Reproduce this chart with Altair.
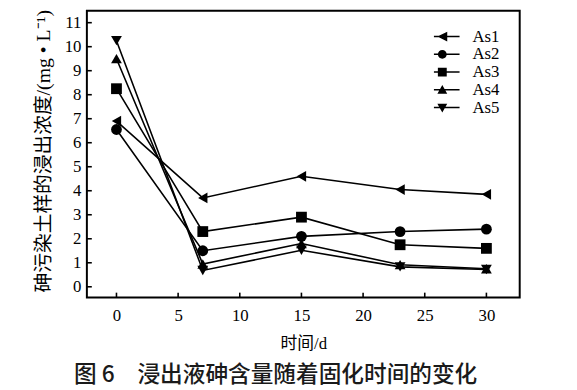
import altair as alt
import pandas as pd

days = [0, 7, 15, 23, 30]
series_names = ["As1", "As2", "As3", "As4", "As5"]
as1 = [6.9, 3.7, 4.6, 4.05, 3.85]
as2 = [6.55, 1.5, 2.1, 2.3, 2.4]
as3 = [8.25, 2.3, 2.9, 1.75, 1.6]
as4 = [9.5, 0.95, 1.8, 0.92, 0.75]
as5 = [10.25, 0.68, 1.52, 0.83, 0.72]
x_ticks = [0, 5, 10, 15, 20, 25, 30]
y_ticks = list(range(0, 12))

rows = []
for name, vals in zip(series_names, [as1, as2, as3, as4, as5]):
    for d, v in zip(days, vals):
        rows.append({"series": name, "day": d, "value": v})
df = pd.DataFrame(rows)
xt = pd.DataFrame({"day": x_ticks})
yt = pd.DataFrame({"value": y_ticks})

W, H = 439, 291
xscale = alt.Scale(domain=[-2.4, 32.7], nice=False, zero=False)
yscale = alt.Scale(domain=[-0.45, 11.5], nice=False, zero=False)

serif = "Liberation Serif"
cjk = "Liberation Serif, Noto Sans CJK SC"

x_axis = alt.Axis(values=x_ticks, ticks=False, domain=False, grid=False,
                  labelFont=serif, labelFontSize=17, labelPadding=10,
                  labelColor="black", labelFlush=False, labelOverlap=False,
                  format="d",
                  title="时间/d", titleFont=cjk, titleFontSize=17,
                  titleFontWeight="normal", titleY=47, titleBaseline="middle",
                  titleColor="black")
y_axis = alt.Axis(values=y_ticks, ticks=False, domain=False, grid=False,
                  labelFont=serif, labelFontSize=17, labelPadding=6,
                  labelColor="black", labelFlush=False, labelOverlap=False,
                  format="d",
                  title="砷污染土样的浸出浓度/(mg • L⁻¹)", titleFont=cjk,
                  titleFontSize=20, titleFontWeight="normal", titleX=-44,
                  titleY=142, titleBaseline="middle", titleColor="black")

xq = alt.X("day:Q", scale=xscale, axis=x_axis)
yq = alt.Y("value:Q", scale=yscale, axis=y_axis)

base = alt.Chart(df)

lines = base.mark_line(color="black", strokeWidth=1.6).encode(
    x=xq, y=yq, detail="series:N")

points = base.mark_point(filled=True, size=120, color="black", opacity=1).encode(
    x=xq, y=yq,
    shape=alt.Shape("series:N",
                    scale=alt.Scale(domain=series_names,
                                    range=["triangle-left", "circle", "square",
                                           "triangle-up", "triangle-down"]),
                    legend=None))

line_path = "M-3.5,-0.15H3.5V0.15H-3.5Z"
legend_paths = [
    line_path + "M-1,0L1,-1L1,1Z",
    line_path + "M-0.9,0A0.9,0.9 0 1,1 0.9,0A0.9,0.9 0 1,1 -0.9,0Z",
    line_path + "M-0.9,-0.9H0.9V0.9H-0.9Z",
    line_path + "M0,-1L1,0.8L-1,0.8Z",
    line_path + "M0,1L-1,-0.8L1,-0.8Z",
]

legend_layer = base.mark_point(filled=True, size=100, color="black", opacity=0).encode(
    x=xq, y=yq,
    shape=alt.Shape("series:N",
                    scale=alt.Scale(domain=series_names, range=legend_paths),
                    legend=alt.Legend(title=None, orient="none", legendX=352,
                                      legendY=18, labelFont=serif,
                                      labelFontSize=17, labelColor="black",
                                      labelOffset=22, symbolSize=100,
                                      symbolOpacity=1, symbolFillColor="black",
                                      symbolStrokeWidth=0, clipHeight=16.6,
                                      rowPadding=0, padding=0)))

xticks = alt.Chart(xt).mark_rule(color="black", strokeWidth=1.6).encode(
    x=xq, y=alt.value(H), y2=alt.value(H - 5))
yticks = alt.Chart(yt).mark_rule(color="black", strokeWidth=1.6).encode(
    y=yq, x=alt.value(0), x2=alt.value(5))

chart = alt.layer(lines, points, legend_layer, xticks, yticks).resolve_scale(
    shape="independent"
).properties(
    width=W, height=H,
    autosize=alt.AutoSizeParams(type="none"),
    padding={"left": 80, "top": 0, "right": 50, "bottom": 90},
    title=alt.TitleParams("图 6\u3000浸出液砷含量随着固化时间的变化",
                          orient="bottom", anchor="middle",
                          font="Noto Sans CJK SC", fontSize=23, fontWeight=500,
                          color="#1a1a1a", offset=13, dx=-28),
).configure_view(stroke="black", strokeWidth=2)

chart.save("out.html", embed_options={"renderer": "svg", "actions": False})
